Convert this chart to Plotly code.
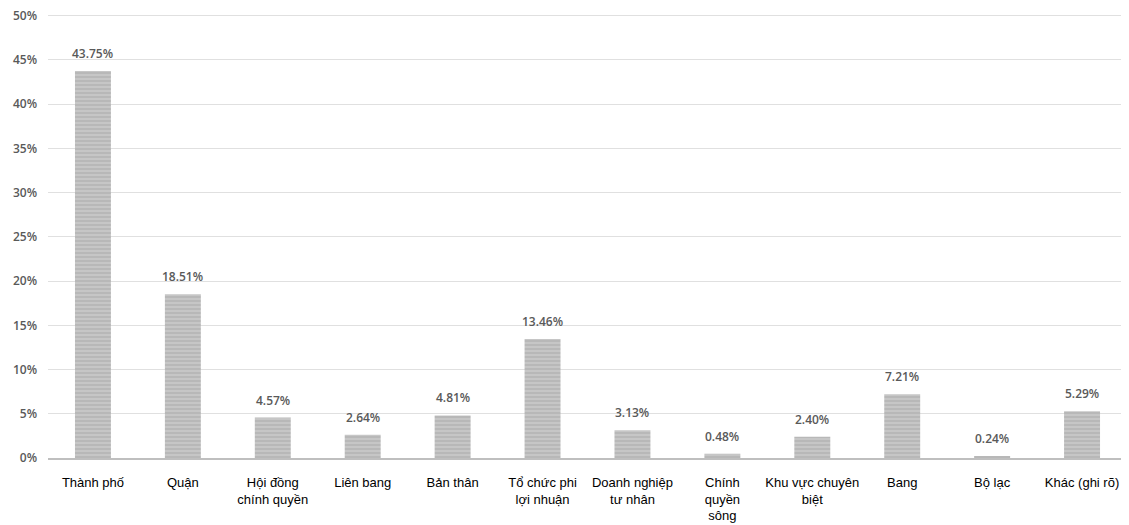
import plotly.graph_objects as go

categories = ["Thành phố", "Quận", "Hội đồng<br>chính quyền", "Liên bang", "Bản thân",
              "Tổ chức phi<br>lợi nhuận", "Doanh nghiệp<br>tư nhân", "Chính<br>quyền<br>sông",
              "Khu vực chuyên<br>biệt", "Bang", "Bộ lạc", "Khác (ghi rõ)"]
values = [43.75, 18.51, 4.57, 2.64, 4.81, 13.46, 3.13, 0.48, 2.40, 7.21, 0.24, 5.29]
y_ticks = [0, 5, 10, 15, 20, 25, 30, 35, 40, 45, 50]
y_tick_labels = [f"{v}%" for v in y_ticks]

fig = go.Figure(go.Bar(
    x=categories, y=values,
    width=0.4,
    marker=dict(color="#bcbcbc", line=dict(width=0),
                pattern=dict(shape="-", fgcolor="#e8e8e8", bgcolor="#b8b8b8", size=4, solidity=0.3)),
    cliponaxis=False,
))
for c, v in zip(categories, values):
    fig.add_annotation(x=c, y=v, text=f"{v:.2f}%", showarrow=False,
                       yanchor="bottom", yshift=7,
                       font=dict(family="Open Sans", size=12, color="#595959", weight=600))
fig.update_layout(
    width=1121, height=517,
    margin=dict(l=40, r=2, t=5, b=67),
    plot_bgcolor="white", paper_bgcolor="white",
    showlegend=False,
)
fig.update_xaxes(
    tickfont=dict(family="Liberation Sans", size=13, color="#000000"),
    showline=True, linecolor="#bfbfbf", linewidth=2,
    ticks="", tickangle=0, automargin=False, ticklabelstandoff=11,
)
fig.update_yaxes(
    range=[0, 50.3], tickvals=y_ticks, ticktext=y_tick_labels,
    tickfont=dict(family="Open Sans", size=12, color="#595959", weight=600),
    showgrid=True, gridcolor="#e0e0e0", gridwidth=1,
    zeroline=False, ticks="", ticklabelstandoff=10, automargin=False,
    ticklabeloverflow="allow",
)
fig.write_html("out.html")
